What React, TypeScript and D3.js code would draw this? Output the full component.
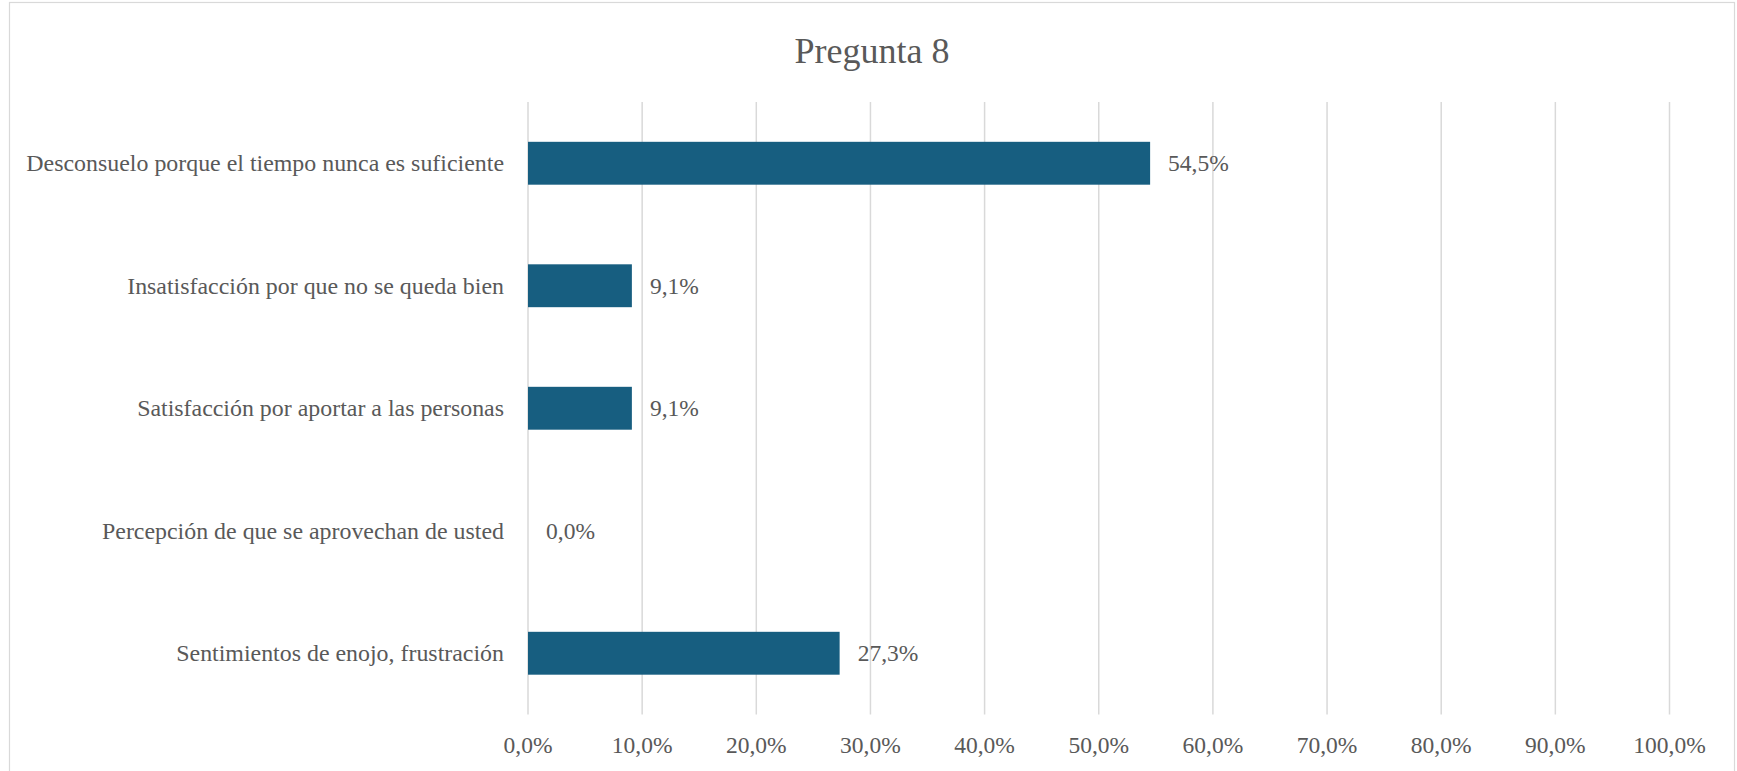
import React from "react";
import * as d3 from "d3";

const categories = [
  "Desconsuelo porque el tiempo nunca es suficiente",
  "Insatisfacción por que no se queda bien",
  "Satisfacción por aportar a las personas",
  "Percepción de que se aprovechan de usted",
  "Sentimientos de enojo, frustración",
];
const values = [54.5, 9.1, 9.1, 0.0, 27.3];
const ticks = [0, 10, 20, 30, 40, 50, 60, 70, 80, 90, 100];
const title = "Pregunta 8";

const W = 1737;
const H = 771;
const FONT = '"Liberation Serif", "Times New Roman", Times, serif';
const TEXT = "#595959";
const GRID = "#d9d9d9";
const BAR = "#175e80";

const fmt = (v: number) => v.toFixed(1).replace(".", ",") + "%";

export default function App() {
  const left = 528;
  const right = 1669.5;
  const top = 102;
  const bottom = 714.5;
  const x = d3.scaleLinear().domain([0, 100]).range([left, right]);
  const y = d3
    .scaleBand<string>()
    .domain(categories)
    .range([top, bottom])
    .paddingInner(0.65)
    .paddingOuter(0.325);

  const ts = { fontFamily: FONT };

  return (
    <svg
      width={W}
      height={H}
      style={{ position: "absolute", left: 0, top: 0, display: "block", fontFamily: FONT }}
    >
      <rect x={0} y={0} width={W} height={H} fill="#ffffff" />
      <rect x={9.5} y={2.5} width={1725} height={780} fill="none" stroke={GRID} strokeWidth={1.2} />
      <text x={872} y={63} textAnchor="middle" fontSize={36} fill={TEXT} style={ts}>
        {title}
      </text>
      {ticks.map((t) => (
        <g key={t}>
          <line x1={x(t)} x2={x(t)} y1={top} y2={bottom} stroke={GRID} strokeWidth={1.5} />
          <text x={x(t)} y={753} textAnchor="middle" fontSize={23.5} fill={TEXT} style={ts}>
            {fmt(t)}
          </text>
        </g>
      ))}
      {categories.map((c, i) => {
        const yy = y(c)!;
        const bw = y.bandwidth();
        const v = values[i];
        return (
          <g key={c}>
            <rect x={x(0)} y={yy} width={x(v) - x(0)} height={bw} fill={BAR} />
            <text
              x={504}
              y={yy + bw / 2}
              dy="0.33em"
              textAnchor="end"
              fontSize={23.9}
              fill={TEXT}
              style={ts}
            >
              {c}
            </text>
            <text
              x={x(v) + 18}
              y={yy + bw / 2}
              dy="0.33em"
              textAnchor="start"
              fontSize={23.5}
              fill={TEXT}
              style={ts}
            >
              {fmt(v)}
            </text>
          </g>
        );
      })}
    </svg>
  );
}
